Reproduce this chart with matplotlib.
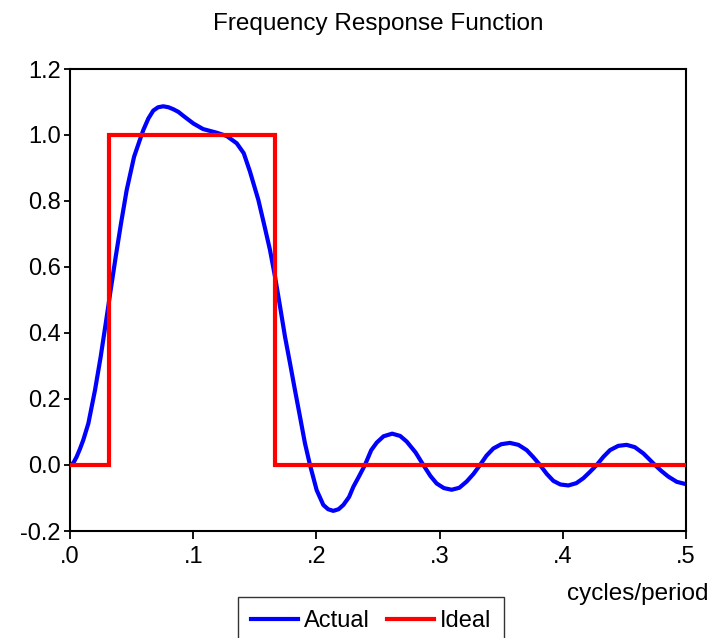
import matplotlib
matplotlib.use("Agg")
import matplotlib.pyplot as plt
from matplotlib.ticker import FixedLocator

plt.rcParams['font.family'] = ['Liberation Sans', 'DejaVu Sans']

# Actual frequency response
freq_actual = [0.0, 0.0027, 0.0054, 0.008, 0.0108, 0.0149, 0.0203, 0.0249, 0.029,
               0.033, 0.0371, 0.0414, 0.046, 0.052, 0.0576, 0.0595, 0.0636, 0.0676,
               0.0715, 0.0757, 0.080, 0.0839, 0.088, 0.092, 0.1001, 0.108, 0.119,
               0.1272, 0.1353, 0.141, 0.146, 0.1529, 0.158, 0.1623, 0.1664, 0.1705,
               0.1745, 0.1786, 0.1826, 0.1867, 0.1907, 0.1948,
               0.2002, 0.2056, 0.2095, 0.2137, 0.218, 0.2219, 0.2265, 0.23, 0.2345,
               0.2394, 0.2445, 0.249, 0.2545, 0.2615, 0.268, 0.2733, 0.2805, 0.2868,
               0.2925, 0.2976, 0.3035, 0.3098, 0.316, 0.322, 0.3275, 0.3328,
               0.338, 0.3436, 0.350, 0.3571, 0.364, 0.3707, 0.376, 0.3815,
               0.387, 0.3923, 0.398, 0.4045, 0.411, 0.4167, 0.422, 0.4275,
               0.433, 0.4383, 0.445, 0.4518, 0.4585, 0.4654, 0.470, 0.4748,
               0.480, 0.4856, 0.4925, 0.5]
resp_actual = [0.0, 0.006, 0.025, 0.048, 0.076, 0.126, 0.227, 0.328, 0.429,
               0.53, 0.631, 0.732, 0.833, 0.934, 0.995, 1.015, 1.05, 1.074,
               1.084, 1.087, 1.084, 1.078, 1.07, 1.058, 1.035, 1.018, 1.007,
               0.997, 0.975, 0.945, 0.89, 0.803, 0.722, 0.652, 0.571, 0.48,
               0.389, 0.308, 0.227, 0.146, 0.066, 0.0,
               -0.076, -0.121, -0.134, -0.139, -0.134, -0.121, -0.097, -0.066, -0.035,
               0.0, 0.045, 0.068, 0.087, 0.095, 0.088, 0.071, 0.038, 0.0,
               -0.033, -0.056, -0.07, -0.075, -0.069, -0.05, -0.027, 0.0,
               0.028, 0.05, 0.063, 0.067, 0.061, 0.045, 0.024, 0.0,
               -0.027, -0.048, -0.059, -0.062, -0.055, -0.04, -0.021, 0.0,
               0.025, 0.045, 0.058, 0.061, 0.054, 0.035, 0.018, 0.0,
               -0.018, -0.035, -0.051, -0.058]

# Ideal band-pass response
freq_ideal = [0.0, 0.03125, 0.03125, 0.16667, 0.16667, 0.5]
resp_ideal = [0.0, 0.0, 1.0, 1.0, 0.0, 0.0]

x_ticks = [0.0, 0.1, 0.2, 0.3, 0.4, 0.5]
x_labels = ['.0', '.1', '.2', '.3', '.4', '.5']
y_ticks = [-0.2, 0.0, 0.2, 0.4, 0.6, 0.8, 1.0, 1.2]
y_labels = ['-0.2', '0.0', '0.2', '0.4', '0.6', '0.8', '1.0', '1.2']

W, H = 712, 638
fig = plt.figure(figsize=(W / 100, H / 100), dpi=100)
ax = fig.add_axes([70 / W, 1 - 531 / H, (686 - 70) / W, (531 - 69) / H])

ax.plot(freq_actual, resp_actual, color=(0, 0, 1), lw=3.0, label='Actual',
        solid_joinstyle='round', zorder=2)
ax.plot(freq_ideal, resp_ideal, color=(1, 0, 0), lw=3.0, label='Ideal',
        solid_joinstyle='miter', zorder=3)

ax.set_xlim(0, 0.5)
ax.set_ylim(-0.2, 1.2)
ax.xaxis.set_major_locator(FixedLocator(x_ticks))
ax.set_xticklabels(x_labels)
ax.yaxis.set_major_locator(FixedLocator(y_ticks))
ax.set_yticklabels(y_labels)
ax.tick_params(axis='x', direction='out', length=6, width=1.3, labelsize=17, pad=5)
ax.tick_params(axis='y', direction='out', length=4.5, width=1.3, labelsize=17, pad=2)
for s in ax.spines.values():
    s.set_linewidth(1.5)
    s.set_color('black')

fig.text(378 / W, 1 - 24 / H, 'Frequency Response Function', ha='center', va='center',
         fontsize=17.5)
fig.text(708 / W, 1 - 594 / H, 'cycles/period', ha='right', va='center', fontsize=17.5)

leg = fig.legend(loc='upper left', bbox_to_anchor=(238 / W, 1 - 597 / H), ncol=2,
                 frameon=True, fancybox=False, edgecolor='black', fontsize=17,
                 handlelength=2.0, handletextpad=0.25, columnspacing=0.7,
                 borderpad=0.55, borderaxespad=0)
leg.get_frame().set_linewidth(1.0)

fig.savefig('out.png', dpi=100)
